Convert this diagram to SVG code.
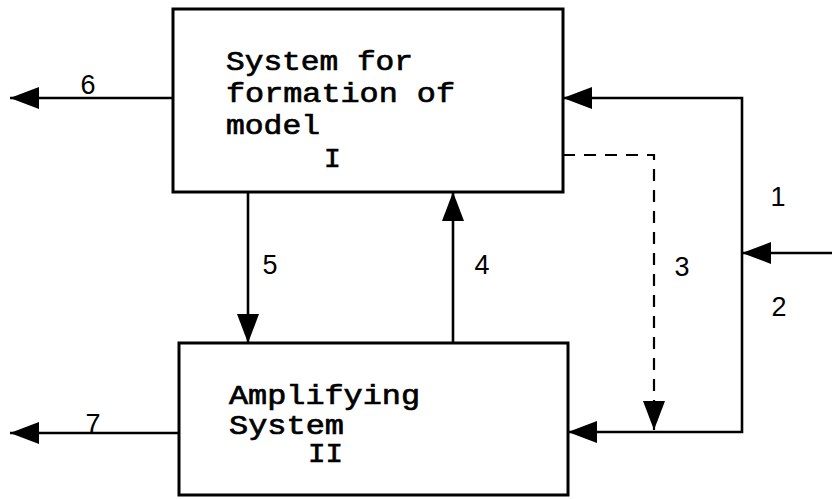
<svg xmlns="http://www.w3.org/2000/svg" width="832" height="499" viewBox="0 0 832 499">
<style>
.box{fill:#fff;stroke:#000;stroke-width:3}
.ln{fill:none;stroke:#000;stroke-width:2.6}
.dash{fill:none;stroke:#000;stroke-width:2.2;stroke-dasharray:12 9}
.t{font-family:"Liberation Mono","Courier New",monospace;font-size:28px;fill:#000;stroke:#000;stroke-width:0.7}
.n{font-family:"Liberation Sans",Arial,sans-serif;font-size:27px;fill:#000;text-anchor:middle}
</style>
<defs>
<marker id="ah" markerUnits="userSpaceOnUse" markerWidth="30" markerHeight="22" refX="29" refY="11" orient="auto">
<path d="M0,0 L29,11 L0,22 Z" fill="#000"/>
</marker>
</defs>
<rect width="832" height="499" fill="#fff"/>
<g id="node-I">
<rect class="box" x="173" y="9" width="390" height="183"/>
<text class="t" x="226" y="70" textLength="187" lengthAdjust="spacingAndGlyphs">System for</text>
<text class="t" x="226" y="102" textLength="229" lengthAdjust="spacingAndGlyphs">formation of</text>
<text class="t" x="226" y="134" textLength="94" lengthAdjust="spacingAndGlyphs">model</text>
<text class="t" x="324" y="167">I</text>
</g>
<g id="node-II">
<rect class="box" x="179" y="343" width="389" height="152"/>
<text class="t" x="229" y="404" textLength="191" lengthAdjust="spacingAndGlyphs">Amplifying</text>
<text class="t" x="229" y="434" textLength="115" lengthAdjust="spacingAndGlyphs">System</text>
<text class="t" x="308" y="462" textLength="35" lengthAdjust="spacingAndGlyphs">II</text>
</g>
<g id="connectors">
<line class="ln" x1="173" y1="98" x2="10" y2="98" marker-end="url(#ah)"/>
<line class="ln" x1="179" y1="433" x2="10" y2="433" marker-end="url(#ah)"/>
<line class="ln" x1="248" y1="192" x2="248" y2="343" marker-end="url(#ah)"/>
<line class="ln" x1="453" y1="343" x2="453" y2="192" marker-end="url(#ah)"/>
<polyline class="ln" points="742,253 742,98 563,98" marker-end="url(#ah)"/>
<polyline class="ln" points="742,253 742,432 568,432" marker-end="url(#ah)"/>
<line class="ln" x1="832" y1="253" x2="742" y2="253" marker-end="url(#ah)"/>
<polyline class="dash" points="563,155 654,155 654,430" marker-end="url(#ah)"/>
</g>
<g id="labels">
<text class="n" x="88" y="94">6</text>
<text class="n" x="93" y="433">7</text>
<text class="n" x="270" y="274">5</text>
<text class="n" x="482" y="274">4</text>
<text class="n" x="682" y="276">3</text>
<text class="n" x="778" y="206">1</text>
<text class="n" x="779" y="316">2</text>
</g>
</svg>
